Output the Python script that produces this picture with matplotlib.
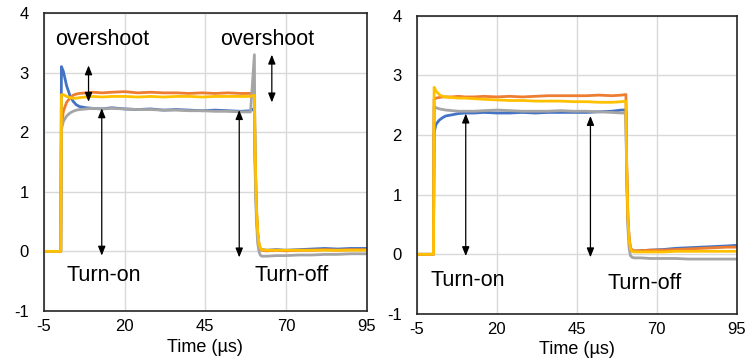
import matplotlib.pyplot as plt

plt.rcParams['font.family'] = ['Liberation Sans', 'DejaVu Sans']
plt.rcParams['axes.unicode_minus'] = False

# time axis (us), shared by all traces of a panel
t_left = [-5, 0.2, 0.4, 1, 2, 3, 4, 5, 6, 8, 10, 13, 16, 20, 24, 28, 32, 36, 40, 44,
          48, 52, 56, 59, 60.2, 60.4, 60.8, 61.2, 61.6, 62, 62.5, 64, 67, 70, 74, 78, 82,
          86, 90, 95]
blue_left = [0, 0, 3.10, 3.02, 2.78, 2.62, 2.52, 2.46, 2.43, 2.41, 2.40, 2.39, 2.41, 2.39,
             2.38, 2.39, 2.37, 2.38, 2.37, 2.36, 2.37, 2.36, 2.35, 2.36, 2.40, 1.60, 0.70,
             0.30, 0.12, 0.05, 0.03, 0.02, 0.03, 0.02, 0.03, 0.04, 0.05, 0.04, 0.05, 0.05]
orange_left = [0, 0, 2.10, 2.35, 2.50, 2.57, 2.62, 2.64, 2.65, 2.66, 2.67, 2.66, 2.67, 2.68,
               2.66, 2.67, 2.66, 2.66, 2.65, 2.66, 2.65, 2.66, 2.65, 2.65, 2.67, 1.70, 0.75,
               0.32, 0.12, 0.04, 0.02, 0.01, 0.02, 0.01, 0.02, 0.02, 0.03, 0.02, 0.03, 0.03]
gray_left = [0, 0, 2.05, 2.18, 2.27, 2.32, 2.35, 2.37, 2.38, 2.39, 2.40, 2.39, 2.40, 2.39,
             2.38, 2.38, 2.37, 2.37, 2.36, 2.36, 2.35, 2.35, 2.34, 2.34, 3.30, 1.40, 0.55,
             0.15, 0.00, -0.06, -0.08, -0.08, -0.07, -0.07, -0.06, -0.06, -0.05, -0.05, -0.04, -0.04]
gold_left = [0, 0, 2.63, 2.63, 2.60, 2.58, 2.57, 2.57, 2.58, 2.59, 2.60, 2.59, 2.60, 2.60,
             2.59, 2.60, 2.59, 2.60, 2.60, 2.59, 2.60, 2.60, 2.60, 2.60, 2.62, 1.75, 0.80,
             0.35, 0.14, 0.06, 0.03, 0.02, 0.02, 0.02, 0.02, 0.02, 0.02, 0.02, 0.02, 0.02]

t_right = [-5, 0.2, 0.4, 1, 2, 3, 4, 6, 8, 10, 13, 16, 20, 24, 28, 32, 36, 40, 44, 48,
           52, 56, 59, 60.4, 60.6, 61, 61.4, 61.8, 62.3, 63, 65, 68, 72, 76, 80, 84, 88,
           92, 95]
blue_right = [0, 0, 2.04, 2.18, 2.25, 2.29, 2.32, 2.34, 2.36, 2.37, 2.37, 2.38, 2.37, 2.37,
              2.38, 2.37, 2.38, 2.38, 2.38, 2.38, 2.39, 2.40, 2.42, 2.42, 1.50, 0.60, 0.25,
              0.10, 0.06, 0.05, 0.06, 0.07, 0.08, 0.10, 0.11, 0.12, 0.13, 0.14, 0.15]
orange_right = [0, 0, 2.60, 2.62, 2.63, 2.64, 2.64, 2.64, 2.65, 2.64, 2.64, 2.65, 2.64, 2.65,
                2.64, 2.65, 2.66, 2.66, 2.66, 2.66, 2.67, 2.66, 2.67, 2.68, 1.65, 0.65, 0.28,
                0.12, 0.07, 0.06, 0.06, 0.07, 0.07, 0.08, 0.09, 0.10, 0.11, 0.12, 0.12]
gray_right = [0, 0, 2.47, 2.46, 2.44, 2.43, 2.42, 2.41, 2.40, 2.40, 2.40, 2.41, 2.42, 2.41,
              2.40, 2.40, 2.40, 2.41, 2.40, 2.40, 2.39, 2.38, 2.37, 2.37, 1.40, 0.45, 0.10,
              -0.02, -0.05, -0.06, -0.06, -0.07, -0.07, -0.07, -0.08, -0.08, -0.08, -0.08, -0.08]
gold_right = [0, 0, 2.80, 2.74, 2.68, 2.65, 2.64, 2.63, 2.62, 2.62, 2.61, 2.60, 2.59, 2.58,
              2.58, 2.57, 2.57, 2.57, 2.56, 2.56, 2.55, 2.55, 2.56, 2.57, 1.60, 0.65, 0.25,
              0.10, 0.05, 0.04, 0.04, 0.04, 0.04, 0.05, 0.05, 0.05, 0.05, 0.05, 0.05]

x_ticks = [-5, 20, 45, 70, 95]
y_ticks = [-1, 0, 1, 2, 3, 4]

colors = {'blue': '#4472C4', 'orange': '#ED7D31', 'gray': '#A5A5A5', 'gold': '#FFC000'}

fig = plt.figure(figsize=(7.47, 3.6), dpi=100)
ax1 = fig.add_axes([0.0589, 0.136, 0.432, 0.828])
ax2 = fig.add_axes([0.558, 0.128, 0.428, 0.828])


def style(ax):
    ax.set_xlim(-5, 95)
    ax.set_ylim(-1, 4)
    ax.set_xticks(x_ticks)
    ax.set_yticks(y_ticks)
    ax.grid(True, color='#D9D9D9', lw=1)
    ax.set_axisbelow(True)
    ax.tick_params(length=0, labelsize=12, pad=11)
    ax.tick_params(axis='x', pad=6)
    for s in ax.spines.values():
        s.set_color('#262626')
        s.set_linewidth(1.2)
    ax.set_xlabel('Time (µs)', fontsize=13, labelpad=3)


def arrow(ax, x, y0, y1):
    ax.annotate('', xy=(x, y1), xytext=(x, y0),
                arrowprops=dict(arrowstyle='<|-|>,head_width=0.22,head_length=0.55',
                                color='black', lw=0.9, shrinkA=0, shrinkB=0))


lw = 2.0
ax1.plot(t_left, blue_left, color=colors['blue'], lw=lw)
ax1.plot(t_left, orange_left, color=colors['orange'], lw=lw)
ax1.plot(t_left, gray_left, color=colors['gray'], lw=lw)
ax1.plot(t_left, gold_left, color=colors['gold'], lw=lw)
style(ax1)
arrow(ax1, 8.8, 3.12, 2.51)
arrow(ax1, 65.6, 3.30, 2.50)
arrow(ax1, 12.9, 2.40, -0.07)
arrow(ax1, 55.5, 2.37, -0.10)
ax1.text(-1.6, 3.55, 'overshoot', fontsize=15.5, va='center')
ax1.text(49.5, 3.55, 'overshoot', fontsize=15.5, va='center')
ax1.text(2.0, -0.40, 'Turn-on', fontsize=15.5, va='center')
ax1.text(60.3, -0.40, 'Turn-off', fontsize=15.5, va='center')

ax2.plot(t_right, blue_right, color=colors['blue'], lw=lw)
ax2.plot(t_right, gray_right, color=colors['gray'], lw=lw)
ax2.plot(t_right, orange_right, color=colors['orange'], lw=lw)
ax2.plot(t_right, gold_right, color=colors['gold'], lw=lw)
style(ax2)
arrow(ax2, 10.3, 2.36, -0.03)
arrow(ax2, 49.3, 2.32, -0.05)
ax2.text(-0.7, -0.44, 'Turn-on', fontsize=15.5, va='center')
ax2.text(54.7, -0.49, 'Turn-off', fontsize=15.5, va='center')

fig.savefig('out.png', dpi=100)
